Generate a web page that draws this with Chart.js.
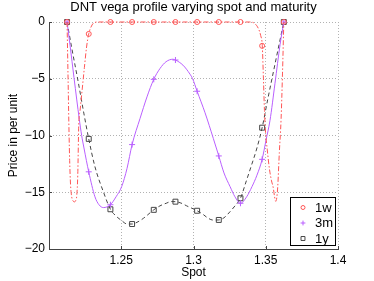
<!DOCTYPE html>
<html>
<head>
<meta charset="utf-8">
<script src="https://cdn.jsdelivr.net/npm/chart.js@4.4.0/dist/chart.umd.min.js"></script>
<style>
  html, body { margin: 0; padding: 0; background: #fff; }
  canvas { display: block; }
</style>
</head>
<body>
<canvas id="chart" width="374" height="281"></canvas>
<script>
const chartTitle = 'DNT vega profile varying spot and maturity';
// series labels
const seriesNames = ['1w', '3m', '1y'];

// marker positions (same spot grid for every maturity)
const markerSpot = [1.2125, 1.2275, 1.2425, 1.2575, 1.2725, 1.2875, 1.3025, 1.3175, 1.3325, 1.3475, 1.3625];
const markers1w = [0, -1.05, 0, 0, 0, 0, 0, 0, 0, -2.1, 0];
const markers3m = [0, -13.2, -16.1, -10.8, -5.05, -3.35, -6.1, -11.8, -15.97, -12.1, 0];
const markers1y = [0, -10.3, -16.5, -17.8, -16.55, -15.83, -16.63, -17.44, -15.53, -9.31, 0];

// curves
const spot1w = [1.2125, 1.2132, 1.2139, 1.2143, 1.2149, 1.2157, 1.2166, 1.2175, 1.2184, 1.2192, 1.2199, 1.2206,
  1.2215, 1.2230, 1.2245, 1.2260, 1.2275, 1.2298, 1.2318, 1.2340, 1.3390, 1.3420, 1.3448, 1.3465, 1.3476,
  1.3484, 1.3491, 1.3498, 1.3510, 1.3525, 1.3540, 1.3552, 1.3561, 1.3569, 1.3576, 1.3583, 1.3594, 1.3606,
  1.3616, 1.3625];
const vega1w = [0, -5, -10, -12.2, -14.3, -15.4, -15.75, -15.85, -15.75, -15.3, -13.5, -9.0,
  -7.8, -5.9, -4.0, -2.2, -1.05, -0.26, -0.03, 0, 0, -0.1, -0.55, -1.2, -2.1,
  -5, -7.8, -9.6, -11.2, -12.9, -14.0, -14.6, -15.4, -15.8, -15.5, -14.5, -11.5, -8.6,
  -4.5, 0];

const spot3m = [1.2125, 1.2146, 1.2173, 1.2210, 1.2226, 1.2242, 1.2275, 1.2318, 1.2346, 1.2376, 1.2425, 1.2464,
  1.2503, 1.2540, 1.2575, 1.2630, 1.2678, 1.2725, 1.2768, 1.2810, 1.2858, 1.2875, 1.2927, 1.2976, 1.2994,
  1.3025, 1.3080, 1.3137, 1.3175, 1.3211, 1.3253, 1.3287, 1.3325, 1.3368, 1.3405, 1.3439, 1.3475, 1.3502,
  1.3529, 1.3564, 1.3599, 1.3625];
const vega3m = [0, -2.1, -4.9, -8.6, -10.0, -11.1, -13.2, -15.4, -16.1, -16.35, -16.1, -15.4,
  -14.5, -12.9, -10.8, -8.5, -6.6, -5.05, -4.1, -3.5, -3.28, -3.35, -3.8, -4.6, -5.0,
  -6.1, -8.0, -10.25, -11.8, -13.3, -14.5, -15.4, -15.97, -15.4, -14.5, -13.5, -12.1, -10.4,
  -8.7, -5.4, -2.0, 0];

const spot1y = [1.2125, 1.2159, 1.2201, 1.2242, 1.2275, 1.2318, 1.2376, 1.2425, 1.2464, 1.2503, 1.2540, 1.2575,
  1.2616, 1.2653, 1.2725, 1.2768, 1.2815, 1.2844, 1.2875, 1.2913, 1.2953, 1.3025, 1.3066, 1.3103, 1.3135,
  1.3175, 1.3211, 1.3253, 1.3287, 1.3325, 1.3363, 1.3398, 1.3439, 1.3475, 1.3514, 1.3556, 1.3592, 1.3625];
const vega1y = [0, -2.4, -5.2, -8.1, -10.3, -12.75, -14.95, -16.5, -17.1, -17.5, -17.8, -17.8,
  -17.6, -17.3, -16.55, -16.2, -15.95, -15.82, -15.83, -15.95, -16.2, -16.63, -16.95, -17.3, -17.45,
  -17.44, -17.25, -16.71, -16.2, -15.53, -14.1, -12.75, -11.1, -9.31, -6.8, -4.2, -2.0, 0];

// axes
const xTicks = [1.25, 1.3, 1.35, 1.4];
const xTickLabels = ['1.25', '1.3', '1.35', '1.4'];
const yTicks = [-20, -15, -10, -5, 0];
const yTickLabels = ['\u221220', '\u221215', '\u221210', '\u22125', '0'];

const red = 'rgb(255,85,85)';
const purple = 'rgb(185,95,255)';
const grey = 'rgb(70,70,70)';

const pts = (xs, ys) => xs.map((x, i) => ({ x: x, y: ys[i] }));

const curve = (xs, ys, color, dash) => ({
  data: pts(xs, ys),
  borderColor: color,
  borderWidth: 1,
  borderDash: dash,
  pointRadius: 0,
  cubicInterpolationMode: 'monotone',
  fill: false,
  clip: false
});

const markers = (ys, color, style, r) => ({
  data: pts(markerSpot, ys),
  showLine: false,
  pointStyle: style,
  pointRadius: r,
  pointBorderWidth: 1,
  pointBorderColor: color,
  pointBackgroundColor: 'rgba(0,0,0,0)',
  clip: false
});

const markerDefs = [
  [markers1w, red, 'circle', 2.5],
  [markers3m, purple, 'cross', 3],
  [markers1y, grey, 'rect', 3.5]
];

// title centred over the plot area
const plotTitle = {
  id: 'plotTitle',
  afterDraw(chart) {
    const { ctx, chartArea } = chart;
    ctx.save();
    ctx.font = '13px "Liberation Sans", Arial, sans-serif';
    ctx.fillStyle = '#000';
    ctx.textAlign = 'center';
    ctx.textBaseline = 'middle';
    ctx.fillText(chartTitle, (chartArea.left + chartArea.right) / 2, 7.5);
    ctx.restore();
  }
};

// legend in the lower right corner of the plot
const boxLegend = {
  id: 'boxLegend',
  afterDraw(chart) {
    const { ctx, chartArea } = chart;
    const w = 46, h = 49;
    const left = chartArea.right - 2 - w;
    const top = chartArea.bottom - 3 - h;
    ctx.save();
    ctx.fillStyle = '#fff';
    ctx.fillRect(left, top, w, h);
    ctx.strokeStyle = '#000';
    ctx.lineWidth = 1;
    ctx.strokeRect(left + 0.5, top + 0.5, w - 1, h - 1);
    ctx.font = '13px "Liberation Sans", Arial, sans-serif';
    ctx.textBaseline = 'middle';
    seriesNames.forEach((name, i) => {
      const y = top + 10.5 + i * 15.5;
      const [, color, style, r] = markerDefs[i];
      ctx.strokeStyle = color;
      ctx.fillStyle = 'rgba(0,0,0,0)';
      ctx.lineWidth = 1;
      Chart.helpers.drawPoint(ctx, { pointStyle: style, radius: r * 0.8, rotation: 0, borderWidth: 1 }, left + 13, y);
      ctx.fillStyle = '#000';
      ctx.fillText(name, left + 25, y + 0.5);
    });
    ctx.restore();
  }
};

// small inward tick marks on left and bottom axes
const innerTicks = {
  id: 'innerTicks',
  afterDatasetsDraw(chart) {
    const { ctx, chartArea, scales } = chart;
    ctx.save();
    ctx.strokeStyle = '#444';
    ctx.lineWidth = 1;
    ctx.beginPath();
    xTicks.forEach(v => {
      const x = Math.round(scales.x.getPixelForValue(v)) + 0.5;
      ctx.moveTo(x, chartArea.bottom);
      ctx.lineTo(x, chartArea.bottom - 3);
    });
    yTicks.forEach(v => {
      const y = Math.round(scales.y.getPixelForValue(v)) + 0.5;
      ctx.moveTo(chartArea.left, y);
      ctx.lineTo(chartArea.left + 3, y);
    });
    ctx.stroke();
    ctx.restore();
  }
};

Chart.defaults.font.family = '"Liberation Sans", Arial, sans-serif';
Chart.defaults.color = '#000';

new Chart(document.getElementById('chart'), {
  type: 'line',
  data: {
    datasets: [
      curve(spot1w, vega1w, red, [5, 2, 1.5, 2]),
      curve(spot3m, vega3m, purple, []),
      curve(spot1y, vega1y, grey, [4, 3]),
      ...markerDefs.map(d => markers(d[0], d[1], d[2], d[3]))
    ]
  },
  options: {
    responsive: false,
    animation: false,
    layout: { padding: { left: 0, right: 36, top: 22, bottom: 0 } },
    plugins: {
      legend: { display: false },
      tooltip: { enabled: false },
      title: { display: false }
    },
    scales: {
      x: {
        type: 'linear',
        min: 1.2,
        max: 1.4,
        afterBuildTicks: s => { s.ticks = xTicks.map(v => ({ value: v })); },
        afterFit: s => { s.height = 32; },
        ticks: {
          font: { size: 12 },
          color: '#000',
          padding: 4,
          maxRotation: 0,
          callback: v => xTickLabels[xTicks.indexOf(v)]
        },
        grid: { color: 'rgba(0,0,0,0.3)', drawTicks: false, lineWidth: 1 },
        border: { color: '#444', width: 1, dash: [1, 2] },
        title: { display: true, text: 'Spot', font: { size: 12 }, color: '#000', padding: { top: 0, bottom: 1 } }
      },
      y: {
        type: 'linear',
        min: -20,
        max: 0,
        afterBuildTicks: s => { s.ticks = yTicks.map(v => ({ value: v })); },
        afterFit: s => { s.width = 49; },
        ticks: {
          font: { size: 12 },
          color: '#000',
          padding: 4,
          callback: v => yTickLabels[yTicks.indexOf(v)]
        },
        grid: { color: 'rgba(0,0,0,0.3)', drawTicks: false, lineWidth: 1 },
        border: { color: '#444', width: 1, dash: [1, 2] },
        title: { display: true, text: 'Price in per unit', font: { size: 12 }, color: '#000', padding: { top: 6, bottom: 0 } }
      }
    }
  },
  plugins: [innerTicks, plotTitle, boxLegend]
});
</script>
</body>
</html>
